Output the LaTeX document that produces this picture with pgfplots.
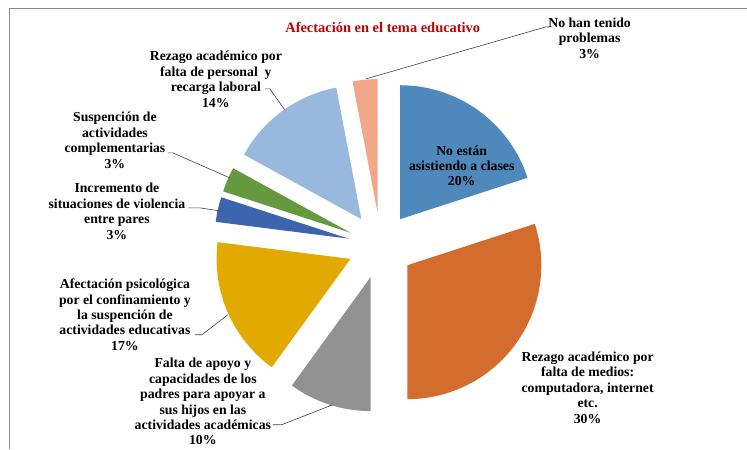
\documentclass[border=0pt]{standalone}
\usepackage{fontspec}
\setmainfont{Liberation Serif}
\usepackage{pgfplots}
\usepackage{pgfplotstable}
\pgfplotsset{compat=1.18}

\definecolor{cBlue}{HTML}{4F88BB}
\definecolor{cOrange}{HTML}{D36C2C}
\definecolor{cGray}{HTML}{929292}
\definecolor{cGold}{HTML}{E2AA00}
\definecolor{cNavy}{HTML}{3D64AE}
\definecolor{cGreen}{HTML}{64993E}
\definecolor{cLight}{HTML}{99B8DE}
\definecolor{cSalmon}{HTML}{F0A888}
\definecolor{cTitle}{HTML}{C00000}

% share of each answer, clockwise from 12 o'clock
\pgfplotstableread{
value color
20 cBlue
30 cOrange
10 cGray
17 cGold
3  cNavy
3  cGreen
14 cLight
3  cSalmon
}\piedata

\begin{document}
\begin{tikzpicture}[
    lbl/.style={font=\fontsize{13.8}{15.5}\selectfont\bfseries, align=center, inner sep=0pt},
    leader/.style={draw=black!75, line width=0.6pt},
]
\begin{axis}[
    x=1bp, y=1bp,
    xmin=0, xmax=747, ymin=0, ymax=449,
    hide axis,
    clip=false,
]
\def\cx{381}\def\cy{203}\def\rr{134}\def\ex{33}
\pgfplotstablegetrowsof{\piedata}
\pgfmathtruncatemacro\nrows{\pgfplotsretval-1}
\gdef\cum{0}
\pgfplotsforeachungrouped \i in {0,...,\nrows}{%
  \pgfplotstablegetelem{\i}{value}\of\piedata \let\val\pgfplotsretval
  \pgfplotstablegetelem{\i}{color}\of\piedata \let\col\pgfplotsretval
  \pgfmathsetmacro\aa{90-3.6*\cum}
  \pgfmathsetmacro\ab{90-3.6*(\cum+\val)}
  \pgfmathsetmacro\am{(\aa+\ab)/2}
  \pgfmathsetmacro\vx{\cx+\ex*cos(\am)}
  \pgfmathsetmacro\vy{\cy+\ex*sin(\am)}
  \edef\temp{\noexpand\fill[\col] (axis cs:\vx,\vy) -- ++(\aa:\rr bp)
    arc[start angle=\aa, end angle=\ab, radius=\rr bp] -- cycle;}
  \temp
  \pgfmathsetmacro\newcum{\cum+\val}\xdef\cum{\newcum}
}

% frame of the chart area
\draw[black!45, line width=1pt] (axis cs:10,0) -- (axis cs:10,440) -- (axis cs:747,440);
\path (axis cs:0,0) rectangle (axis cs:747,449);

\node[lbl, text=cTitle, font=\fontsize{14.5}{16}\selectfont\bfseries] at (axis cs:383,421) {Afectación en el tema educativo};

\node[lbl] at (axis cs:462,283) {No están\\asistiendo a clases\\20\%};
\node[lbl] at (axis cs:588,61) {Rezago académico por\\falta de medios:\\computadora, internet\\etc.\\30\%};
\node[lbl] at (axis cs:203,47) {Falta de apoyo y\\capacidades de los\\padres para apoyar a\\sus hijos en las\\actividades académicas\\10\%};
\node[lbl] at (axis cs:125,134) {Afectación psicológica\\por el confinamiento y\\la suspención de\\actividades educativas\\17\%};
\node[lbl] at (axis cs:117,237.5) {Incremento de\\situaciones de violencia\\entre pares\\3\%};
\node[lbl] at (axis cs:115,308.5) {Suspención de\\actividades\\complementarias\\3\%};
\node[lbl] at (axis cs:216,369.5) {Rezago académico por\\falta de personal\ \ y\\recarga laboral\\14\%};
\node[lbl] at (axis cs:590,411) {No han tenido\\problemas\\3\%};

\draw[leader] (axis cs:366,370) -- (axis cs:546,422) -- (axis cs:549,422);
\draw[leader] (axis cs:285,339) -- (axis cs:270,360) -- (axis cs:265,360);
\draw[leader] (axis cs:230,271) -- (axis cs:173,296) -- (axis cs:168,296);
\draw[leader] (axis cs:220,238) -- (axis cs:200,241) -- (axis cs:188,241);
\draw[leader] (axis cs:228,134) -- (axis cs:202,114) -- (axis cs:195,114);
\draw[leader] (axis cs:333,44) -- (axis cs:282,24) -- (axis cs:273,24);
\end{axis}
\end{tikzpicture}
\end{document}
